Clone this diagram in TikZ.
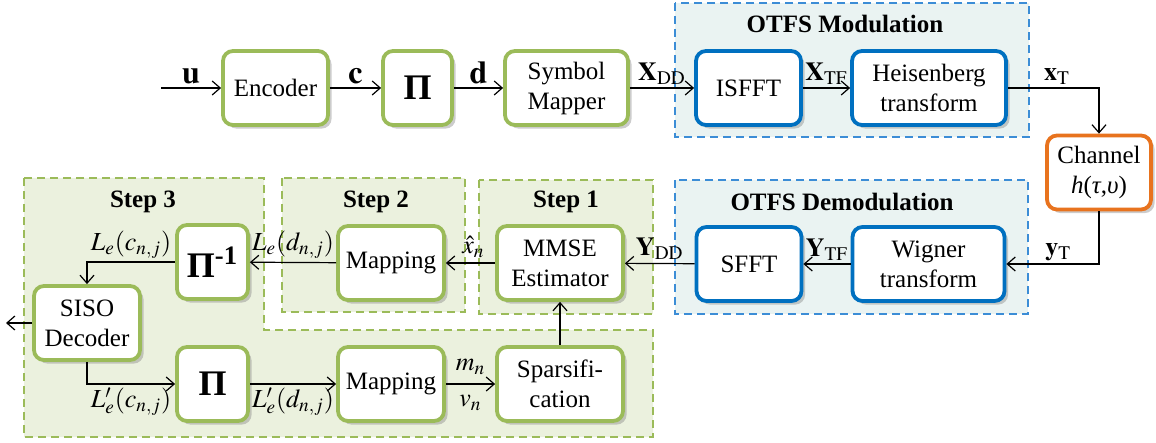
\documentclass[tikz,border=0pt]{standalone}
\usepackage{mathptmx}
\usepackage[no-math]{fontspec}
\setmainfont{Liberation Serif}
\usepackage{tikz}
\usetikzlibrary{shadows,arrows.meta}
\definecolor{greenline}{HTML}{9BBB59}
\definecolor{greenback}{HTML}{EBF1DE}
\definecolor{blueline}{HTML}{0070C0}
\definecolor{bluedash}{HTML}{3C8DD6}
\definecolor{blueback}{HTML}{EAF3F2}
\definecolor{orangeline}{HTML}{E8731E}
\tikzstyle{block} =[
    rectangle,
    rounded corners=5pt,
    fill=white,
    line width=1.9pt,
    minimum height=37pt,
    align=center,
    inner sep=2pt,
    font=\fontsize{12.5}{15}\selectfont,
    drop shadow={shadow xshift=1.8pt, shadow yshift=-1.8pt, opacity=0.4}
    ]
\tikzstyle{gblock} = [block, draw=greenline]
\tikzstyle{bblock} = [block, draw=blueline]
\tikzstyle{oblock} = [block, draw=orangeline]
\tikzstyle{bigpi} = [font=\bfseries\fontsize{18}{20}\selectfont]
\tikzstyle{greenzone} = [
    draw=greenline,
    fill=greenback,
    line width=0.6pt,
    dash pattern=on 4pt off 2.5pt
    ]
\tikzstyle{bluezone} = [
    draw=bluedash,
    fill=blueback,
    line width=0.6pt,
    dash pattern=on 4pt off 2.5pt
    ]
\tikzstyle{zonetitle} = [font=\bfseries\fontsize{12.5}{15}\selectfont]
\tikzstyle{sig} = [->, >={Straight Barb[length=4pt,width=7pt]}, line width=0.6pt]
\tikzstyle{lbl} = [font=\fontsize{13}{15}\selectfont, inner sep=1.5pt]
\tikzstyle{biglbl} = [font=\fontsize{16}{18}\selectfont, inner sep=1.5pt]

\begin{document}
\begin{tikzpicture}[x=0.5pt,y=-0.5pt]
\useasboundingbox (0,0) rectangle (1156,443);

% dashed groups
\draw[bluezone] (675,3) rectangle (1029,137);
\draw[bluezone] (675,180) rectangle (1028,314);
\draw[greenzone] (24,178) -- (264,178) -- (264,330) -- (653,330) -- (653,437) -- (24,437) -- cycle;
\draw[greenzone] (282,178) rectangle (465,312);
\draw[greenzone] (479,180) rectangle (653,314);
\node[zonetitle] (tmod) at (845,24) {OTFS Modulation};
\node[zonetitle] (tdemod) at (842,202) {OTFS Demodulation};
\node[zonetitle] (tstep3) at (143,202) {Step 3};
\node[zonetitle] (tstep2) at (376,202) {Step 2};
\node[zonetitle] (tstep1) at (566,202) {Step 1};

% transmitter
\node[gblock, minimum width=52.5pt] (enc) at (275.5,88) {Encoder};
\node[gblock, bigpi, minimum width=34.5pt] (pi) at (417.5,88) {Π};
\node[gblock, minimum width=61.5pt] (symmap) at (566.5,88) {Symbol\\Mapper};
\node[bblock, minimum width=52.5pt] (isfft) at (748.5,88) {ISFFT};
\node[bblock, minimum width=77pt] (heis) at (929,88) {Heisenberg\\transform};
\node[oblock, minimum width=52pt] (chan) at (1099,172.5) {Channel\\\textit{h}(\textit{τ},\textit{υ})};

% receiver
\node[bblock, minimum width=52.5pt] (sfft) at (749,264) {SFFT};
\node[bblock, minimum width=76pt] (wig) at (928.5,264) {Wigner\\transform};
\node[gblock, minimum width=63pt] (mmse) at (560,263) {MMSE\\Estimator};
\node[gblock, minimum width=53pt] (demap) at (391,263) {Mapping};
\node[gblock, bigpi, minimum width=35.5pt] (deint) at (212.5,262) {Π\textsuperscript{-1}};
\node[gblock, minimum width=53pt] (siso) at (87,323) {SISO\\Decoder};
\node[gblock, bigpi, minimum width=35.5pt] (int) at (212.5,384) {Π};
\node[gblock, minimum width=53pt] (remap) at (391,384) {Mapping};
\node[gblock, minimum width=63pt] (spars) at (560,384) {Sparsifi-\\cation};

\coordinate (in) at (161,88);
\coordinate (out) at (6,323);

% connectors
\draw[sig] (in) -- node[biglbl, above] (lu) {$\mathbf{u}$} (enc);
\draw[sig] (enc) -- node[biglbl, above] (lc) {$\mathbf{c}$} (pi);
\draw[sig] (pi) -- node[biglbl, above] (ld) {$\mathbf{d}$} (symmap);
\draw[sig] (symmap) -- node[lbl, above] (lxdd) {$\mathbf{X}_{\mathrm{DD}}$} (isfft);
\draw[sig] (isfft) -- node[lbl, above] (lxtf) {$\mathbf{X}_{\mathrm{TF}}$} (heis);
\draw[sig] (heis) -| node[lbl, above, pos=0.27] (lxt) {$\mathbf{x}_{\mathrm{T}}$} (chan);
\draw[sig] (chan) |- node[lbl, above, pos=0.72] (lyt) {$\mathbf{y}_{\mathrm{T}}$} (wig);
\draw[sig] (wig) -- node[lbl, above] (lytf) {$\mathbf{Y}_{\mathrm{TF}}$} (sfft);
\draw[sig] (sfft) -- node[lbl, above] (lydd) {$\mathbf{Y}_{\mathrm{DD}}$} (mmse);
\draw[sig] (mmse) -- node[lbl, above, xshift=1.5pt, yshift=1pt] (lxhat) {$\hat{x}_n$} (demap);
\draw[sig] (demap) -- node[lbl, above] (lled) {$L_e(d_{n,j})$} (deint);
\draw[sig] (deint) -| node[lbl, above, pos=0.25] (llec) {$L_e(c_{n,j})$} (siso);
\draw[sig] (siso) -- (out);
\draw[sig] (siso) |- node[lbl, below, pos=0.75] (llpc) {$L_e'(c_{n,j})$} (int);
\draw[sig] (int) -- node[lbl, below] (llpd) {$L_e'(d_{n,j})$} (remap);
\draw[sig] (remap) -- node[lbl, above, yshift=3pt] (lm) {$m_n$} node[lbl, below, yshift=-4pt] (lv) {$v_n$} (spars);
\draw[sig] (spars) -- (mmse);
\end{tikzpicture}
\end{document}
